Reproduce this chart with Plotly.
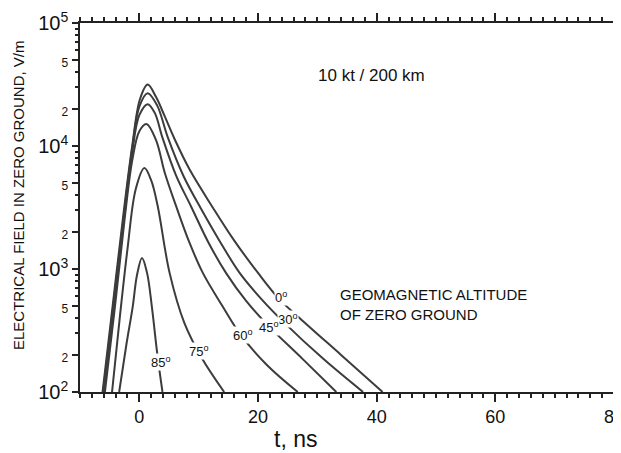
import math
import plotly.graph_objects as go

# courbes : temps (ns) et champ (V/m)
t_0 = [-6.2, -4.5, -2.8, -1.2, 0.1, 1.4, 2.8, 4.2, 5.9, 8.5, 12.4, 16.0, 20.0, 23.5, 27.0, 34.0, 41.0]
e_0 = [100, 500, 2500, 10000, 24000, 31600, 25100, 17800, 11500, 6400, 3150, 1700, 930, 575, 400, 200, 100]

t_30 = [-6.1, -4.4, -2.7, -1.2, 0.0, 1.4, 3.0, 4.8, 7.5, 10.4, 13.5, 16.9, 20.5, 24.5, 31.0, 37.7]
e_30 = [100, 500, 2500, 9500, 20900, 26900, 21400, 11750, 5620, 3090, 1700, 930, 575, 363, 186, 100]

t_45 = [-6.0, -4.3, -2.6, -1.2, 0.0, 1.4, 2.6, 3.9, 6.2, 8.7, 11.6, 14.6, 18.0, 21.5, 27.5, 33.2]
e_45 = [100, 500, 2500, 8900, 17800, 21900, 18600, 11700, 5750, 3240, 1660, 930, 550, 355, 186, 100]

t_60 = [-5.8, -4.1, -2.5, -1.2, 0.0, 1.2, 2.8, 4.3, 6.2, 8.4, 10.7, 14.0, 17.0, 21.5, 26.7]
e_60 = [100, 500, 2500, 7600, 13200, 15100, 11200, 6030, 3240, 1660, 930, 500, 295, 166, 100]

t_75 = [-4.6, -3.3, -2.0, -0.6, 0.85, 2.0, 3.1, 5.1, 7.6, 10.5, 14.3]
e_75 = [100, 400, 1450, 4470, 6610, 5250, 3240, 930, 363, 190, 100]

t_85 = [-3.4, -2.2, -1.1, -0.4, 0.45, 1.3, 2.1, 3.0, 3.9]
e_85 = [100, 240, 500, 890, 1230, 930, 500, 209, 100]

curves = [(t_0, e_0), (t_30, e_30), (t_45, e_45), (t_60, e_60), (t_75, e_75), (t_85, e_85)]

# étiquettes des angles (position t, E)
angle_labels = ["0", "30", "45", "60", "75", "85"]
label_t = [23.8, 25.0, 21.8, 17.4, 10.1, 3.7]
label_e = [590, 390, 340, 290, 215, 175]

x_ticks = [0, 20, 40, 60, 80]
y_ticks = [100, 200, 500, 1000, 2000, 5000, 10000, 20000, 50000, 100000]
y_text = []
for v in y_ticks:
    s = str(v)
    if s.startswith("1"):
        y_text.append("10<sup>%d</sup>" % (len(s) - 1))
    else:
        y_text.append("<span style='font-size:12px'>%s</span>" % s[0])

# petites graduations de 1 à 9 par décade
y_minor = [m * 10 ** d for d in range(2, 5) for m in range(2, 10)]

font = "Arial, Liberation Sans, sans-serif"
line_col = "#3c3c3c"

# la page ajoute une marge de 8 px : on décale tout
OFF = 8
W, H = 621 - OFF, 453 - OFF
# zone de tracé en pixels (coordonnées de la capture)
L, R, T, B = 80, 614, 23, 392


def px(x, y):
    """Position en pixels -> coordonnées paper."""
    return (x - L) / (R - L), 1 - (y - T) / (B - T)


def add_text(x, y, text, size, **kw):
    x0, y0 = px(x, y)
    opts = dict(xanchor="center", yanchor="middle")
    opts.update(kw)
    fig.add_annotation(
        x=x0, y=y0, xref="paper", yref="paper", text=text, showarrow=False,
        font=dict(family=font, size=size, color="#111"), **opts
    )


fig = go.Figure()
for t, e in curves:
    fig.add_trace(go.Scatter(
        x=t, y=e, mode="lines",
        line=dict(color=line_col, width=2, shape="spline", smoothing=1.0),
        showlegend=False, hoverinfo="skip"
    ))

for lab, lt, le in zip(angle_labels, label_t, label_e):
    fig.add_annotation(
        x=lt, y=math.log10(le), xref="x", yref="y",
        text=lab + "<sup>o</sup>", showarrow=False,
        font=dict(family=font, size=13, color="#111"),
        bgcolor="white", borderpad=0
    )

add_text(371, 75.5, "10 kt / 200 km", 17)
add_text(338, 304, "GEOMAGNETIC ALTITUDE<br>OF ZERO GROUND", 15, xanchor="left", align="left")
add_text(18, 195, "ELECTRICAL FIELD IN ZERO GROUND, V/m", 15, textangle=-90)
add_text(295, 439, "t, ns", 23)

fig.update_xaxes(
    range=[-10, 80], tickvals=x_ticks, ticks="outside", ticklen=8, tickwidth=1.5,
    tickcolor="#222", showline=True, linecolor="#222", linewidth=1.5,
    mirror="allticks", showgrid=False, zeroline=False, automargin=False,
    ticklabeloverflow="allow",
    tickfont=dict(family=font, size=18, color="#111"),
    minor=dict(dtick=2, ticks="outside", ticklen=4, tickcolor="#222", showgrid=False)
)
fig.update_yaxes(
    type="log", range=[2, 5], tickvals=y_ticks, ticktext=y_text,
    ticks="outside", ticklen=6, tickwidth=1.5, tickcolor="#222",
    showline=True, linecolor="#222", linewidth=1.5, mirror="allticks",
    showgrid=False, zeroline=False, automargin=False,
    tickfont=dict(family=font, size=20, color="#111"),
    minor=dict(tickvals=y_minor, ticks="outside", ticklen=3, tickcolor="#222", showgrid=False)
)
fig.update_layout(
    width=W, height=H,
    margin=dict(l=L - OFF, r=W - (R - OFF), t=T - OFF, b=H - (B - OFF)),
    plot_bgcolor="white", paper_bgcolor="white"
)

fig.write_html("out.html")
